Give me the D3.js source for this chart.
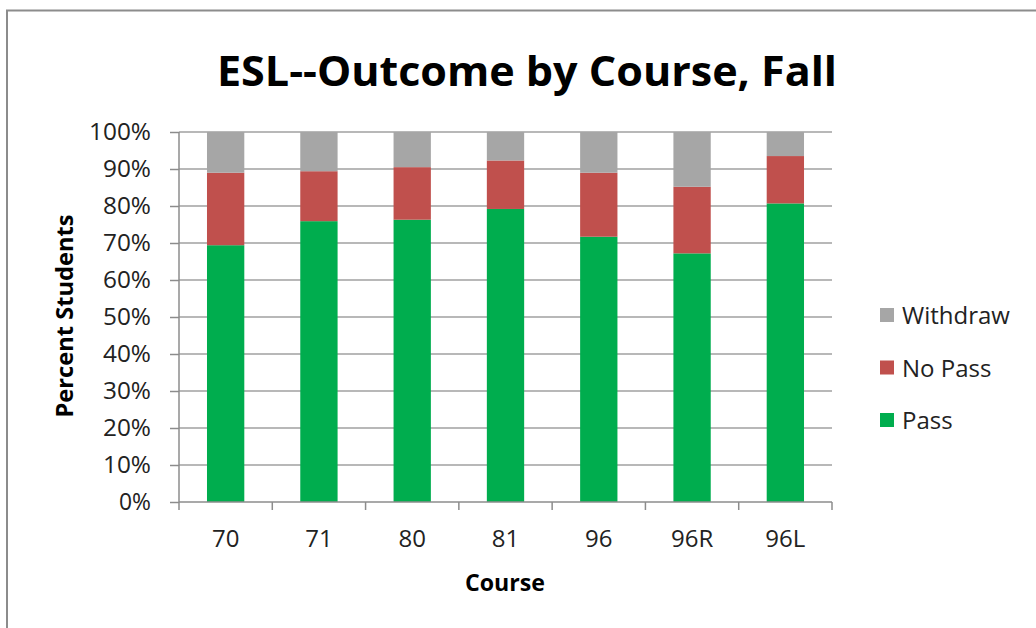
<!DOCTYPE html>
<html>
<head>
<meta charset="utf-8">
<script src="https://cdn.jsdelivr.net/npm/d3@7"></script>
<style>
  body { margin: 0; background: #fff; }
  svg { display: block; font-family: "Open Sans", "Liberation Sans", sans-serif; }
</style>
</head>
<body>
<script>
const courses = ["70", "71", "80", "81", "96", "96R", "96L"];
const pass = [69.4, 75.9, 76.3, 79.2, 71.7, 67.2, 80.7];
const noPass = [19.6, 13.5, 14.2, 13.1, 17.3, 18.0, 12.8];
const withdraw = [11.0, 10.6, 9.5, 7.7, 11.0, 14.8, 6.5];
const seriesNames = ["Pass", "No Pass", "Withdraw"];
const yTicks = [0, 10, 20, 30, 40, 50, 60, 70, 80, 90, 100];

const colors = { "Pass": "#00ad4e", "No Pass": "#c0504d", "Withdraw": "#a6a6a6" };

const w = 1036;
const h = 628;
const plotLeft = 179, plotRight = 832, plotTop = 132, plotBottom = 502;

const rows = courses.map((c, i) => ({ course: c, "Pass": pass[i], "No Pass": noPass[i], "Withdraw": withdraw[i] }));
const stacked = d3.stack().keys(seriesNames)(rows);

const x = d3.scaleBand().domain(courses).range([plotLeft, plotRight]).paddingInner(0.6).paddingOuter(0.3);
const y = d3.scaleLinear().domain([0, 100]).range([plotBottom, plotTop]);

const svg = d3.select("body").append("svg").attr("width", w).attr("height", h);

// outer frame
svg.append("path")
  .attr("d", `M7,${h} L7,10.5 L${w},10.5`)
  .attr("fill", "none")
  .attr("stroke", "#8c8c8c")
  .attr("stroke-width", 2);

// title
svg.append("text")
  .attr("x", 527)
  .attr("y", 86)
  .attr("text-anchor", "middle")
  .attr("font-size", 41)
  .attr("font-weight", "bold")
  .attr("textLength", 620)
  .attr("lengthAdjust", "spacingAndGlyphs")
  .text("ESL--Outcome by Course, Fall");

// gridlines
svg.append("g")
  .selectAll("line")
  .data(yTicks.filter((d) => d > 0))
  .join("line")
  .attr("x1", plotLeft)
  .attr("x2", plotRight)
  .attr("y1", (d) => y(d))
  .attr("y2", (d) => y(d))
  .attr("stroke", "#a0a0a0")
  .attr("stroke-width", 1.5);

// bars
svg.append("g")
  .selectAll("g")
  .data(stacked)
  .join("g")
  .attr("fill", (s) => colors[s.key])
  .selectAll("rect")
  .data((s) => s)
  .join("rect")
  .attr("x", (d) => x(d.data.course))
  .attr("y", (d) => y(d[1]))
  .attr("width", x.bandwidth())
  .attr("height", (d) => y(d[0]) - y(d[1]));

// y axis
const yAxis = d3.axisLeft(y).tickValues(yTicks).tickFormat((d) => d + "%").tickSize(9).tickPadding(19);
const gy = svg.append("g").attr("transform", `translate(${plotLeft},0)`).call(yAxis);
gy.selectAll("path, line").attr("stroke", "#8c8c8c").attr("stroke-width", 1.5);
gy.select(".domain").attr("d", `M0,${plotBottom}V${plotTop}`);
gy.selectAll("text")
  .attr("font-size", 24)
  .attr("fill", "#222")
  .attr("font-family", "Open Sans, sans-serif")
  .attr("textLength", (d) => (d === 100 ? 62 : d === 0 ? 32 : 48))
  .attr("lengthAdjust", "spacingAndGlyphs");

// x axis
const xAxis = d3.axisBottom(x).tickSize(0).tickPadding(28);
const gx = svg.append("g").attr("transform", `translate(0,${plotBottom})`).call(xAxis);
gx.select(".domain").attr("d", `M${plotLeft},0H${plotRight}`).attr("stroke", "#8c8c8c").attr("stroke-width", 1.5);
gx.selectAll("text").attr("font-size", 24).attr("fill", "#222").attr("font-family", "Open Sans, sans-serif");
gx.append("g")
  .selectAll("line")
  .data(d3.range(courses.length + 1))
  .join("line")
  .attr("x1", (i) => plotLeft + i * x.step())
  .attr("x2", (i) => plotLeft + i * x.step())
  .attr("y1", 0)
  .attr("y2", 8)
  .attr("stroke", "#8c8c8c")
  .attr("stroke-width", 1.5);

// axis titles
svg.append("text")
  .attr("transform", "translate(73,316) rotate(-90)")
  .attr("text-anchor", "middle")
  .attr("font-size", 23)
  .attr("font-weight", "bold")
  .attr("textLength", 203)
  .attr("lengthAdjust", "spacingAndGlyphs")
  .text("Percent Students");

svg.append("text")
  .attr("x", 505)
  .attr("y", 591)
  .attr("text-anchor", "middle")
  .attr("font-size", 23)
  .attr("font-weight", "bold")
  .attr("textLength", 80)
  .attr("lengthAdjust", "spacingAndGlyphs")
  .text("Course");

// legend
const legendItems = ["Withdraw", "No Pass", "Pass"];
const legend = svg.append("g")
  .selectAll("g")
  .data(legendItems)
  .join("g")
  .attr("transform", (d, i) => `translate(880,${315 + i * 52.5})`);
legend.append("rect")
  .attr("x", 0)
  .attr("y", -7)
  .attr("width", 14)
  .attr("height", 14)
  .attr("fill", (d) => colors[d]);
legend.append("text")
  .attr("x", 22)
  .attr("y", 9)
  .attr("font-size", 24)
  .attr("fill", "#222")
  .text((d) => d);
</script>
</body>
</html>
